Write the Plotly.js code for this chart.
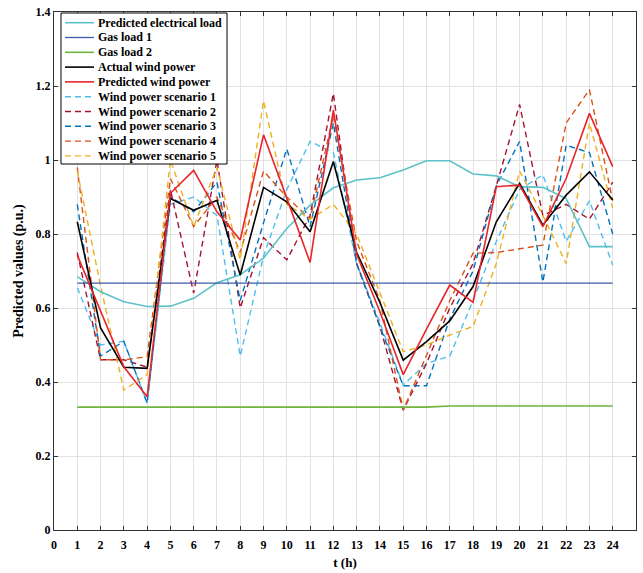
<!DOCTYPE html>
<html>
<head>
<meta charset="utf-8">
<script src="https://cdn.plot.ly/plotly-3.0.1.min.js"></script>
<style>
  html, body { margin: 0; padding: 0; background: #ffffff; }
  #chart { width: 643px; height: 573px; }
</style>
</head>
<body>
<div id="chart"></div>
<script>
// Hourly time axis (h)
const hours = [1, 2, 3, 4, 5, 6, 7, 8, 9, 10, 11, 12, 13, 14, 15, 16, 17, 18, 19, 20, 21, 22, 23, 24];

// Forecast values in p.u.
const electricalLoad = [0.685, 0.644, 0.617, 0.604, 0.605, 0.626, 0.668, 0.690, 0.735, 0.815, 0.878, 0.925, 0.946, 0.952, 0.973, 0.998, 0.998, 0.962, 0.957, 0.928, 0.926, 0.896, 0.766, 0.766];
const gasLoad1 = [0.667, 0.667, 0.667, 0.667, 0.667, 0.667, 0.667, 0.667, 0.667, 0.667, 0.667, 0.667, 0.667, 0.667, 0.667, 0.667, 0.667, 0.667, 0.667, 0.667, 0.667, 0.667, 0.667, 0.667];
const gasLoad2 = [0.332, 0.332, 0.332, 0.332, 0.332, 0.332, 0.332, 0.332, 0.332, 0.332, 0.332, 0.332, 0.332, 0.332, 0.332, 0.332, 0.335, 0.335, 0.335, 0.335, 0.335, 0.335, 0.335, 0.335];
const actualWind = [0.833, 0.546, 0.440, 0.437, 0.896, 0.864, 0.891, 0.689, 0.926, 0.887, 0.806, 0.996, 0.750, 0.615, 0.459, 0.509, 0.565, 0.658, 0.833, 0.937, 0.824, 0.905, 0.968, 0.892];
const predictedWind = [0.743, 0.593, 0.441, 0.360, 0.910, 0.972, 0.860, 0.784, 1.068, 0.897, 0.723, 1.135, 0.745, 0.590, 0.420, 0.543, 0.662, 0.615, 0.928, 0.932, 0.820, 0.950, 1.126, 0.982];
const scenario1 = [0.655, 0.500, 0.510, 0.343, 0.880, 0.900, 0.850, 0.470, 0.740, 0.920, 1.050, 1.020, 0.720, 0.560, 0.392, 0.450, 0.470, 0.620, 0.780, 0.920, 0.960, 0.780, 0.890, 0.716];
const scenario2 = [0.750, 0.460, 0.460, 0.440, 0.920, 0.640, 1.000, 0.600, 0.790, 0.730, 0.850, 1.180, 0.720, 0.550, 0.324, 0.450, 0.600, 0.720, 0.930, 1.150, 0.850, 0.880, 0.840, 0.940];
const scenario3 = [0.880, 0.470, 0.510, 0.343, 0.900, 0.860, 0.940, 0.620, 0.830, 1.030, 0.820, 1.100, 0.720, 0.550, 0.390, 0.390, 0.570, 0.700, 0.930, 1.050, 0.670, 1.040, 1.020, 0.800];
const scenario4 = [0.980, 0.460, 0.460, 0.468, 0.950, 0.820, 0.900, 0.750, 0.970, 0.900, 0.840, 1.120, 0.780, 0.620, 0.324, 0.470, 0.620, 0.748, 0.750, 0.760, 0.770, 1.100, 1.190, 0.890];
const scenario5 = [0.970, 0.660, 0.378, 0.420, 1.000, 0.820, 0.980, 0.730, 1.160, 0.880, 0.840, 0.880, 0.800, 0.640, 0.482, 0.500, 0.527, 0.550, 0.720, 0.970, 0.850, 0.720, 1.100, 0.870];

// Series names, in legend order
const seriesNames = [
  'Predicted electrical load', 'Gas load 1', 'Gas load 2', 'Actual wind power', 'Predicted wind power',
  'Wind power scenario 1', 'Wind power scenario 2', 'Wind power scenario 3', 'Wind power scenario 4', 'Wind power scenario 5'
];
const seriesValues = [electricalLoad, gasLoad1, gasLoad2, actualWind, predictedWind,
  scenario1, scenario2, scenario3, scenario4, scenario5];

// Styles
const seriesColors = ['#5cc2c9', '#3d5aa6', '#6fb43f', '#000000', '#e8252b',
  '#4dbeee', '#a2142f', '#0072bd', '#d95319', '#edb120'];
const seriesDash = ['solid', 'solid', 'solid', 'solid', 'solid',
  '6px,4px', '6px,4px', '6px,4px', '6px,4px', '6px,4px'];
const seriesWidth = [1.6, 1.3, 1.6, 1.6, 1.6, 1.4, 1.4, 1.4, 1.4, 1.4];

const FONT = 'Liberation Serif, Times New Roman, serif';

// Scenarios are drawn first so the solid curves sit on top
const drawOrder = [5, 6, 7, 8, 9, 0, 1, 2, 3, 4];
const traces = drawOrder.map(i => ({
  type: 'scatter',
  mode: 'lines',
  name: seriesNames[i],
  x: hours,
  y: seriesValues[i],
  line: { color: seriesColors[i], width: seriesWidth[i], dash: seriesDash[i] },
  showlegend: false,
  hoverinfo: 'skip'
}));

// Plot-area geometry in pixels (used for the boxed legend)
const M = { l: 54, r: 7, t: 12, b: 43 };
const W = 643, H = 573;
const plotW = W - M.l - M.r, plotH = H - M.t - M.b;
const px = x => (x - M.l) / plotW;
const py = y => (H - M.b - y) / plotH;

const legendBox = { x0: 61, y0: 13, x1: 227, y1: 164 };
const rowY0 = 22.7, rowStep = 14.8;
const shapes = [{
  type: 'rect', xref: 'paper', yref: 'paper', layer: 'above',
  x0: px(legendBox.x0), x1: px(legendBox.x1), y0: py(legendBox.y1), y1: py(legendBox.y0),
  line: { color: '#000000', width: 1 }, fillcolor: '#ffffff'
}];
const annotations = [];
seriesNames.forEach((name, i) => {
  const yy = py(rowY0 + rowStep * i);
  shapes.push({
    type: 'line', xref: 'paper', yref: 'paper', layer: 'above',
    x0: px(65), x1: px(94), y0: yy, y1: yy,
    line: { color: seriesColors[i], width: seriesWidth[i], dash: seriesDash[i] }
  });
  annotations.push({
    xref: 'paper', yref: 'paper', x: px(96), y: yy,
    xanchor: 'left', yanchor: 'middle', showarrow: false,
    text: name, font: { family: FONT, size: 12, color: '#000000', weight: 'bold' }
  });
});

const axisCommon = {
  showline: true, linecolor: '#333333', linewidth: 1, mirror: 'ticks',
  ticks: 'inside', ticklen: 4, tickcolor: '#333333',
  showgrid: true, gridcolor: '#e2e2e2', gridwidth: 1,
  zeroline: false, tickfont: { family: FONT, size: 12, color: '#000000', weight: 'bold' }
};

const layout = {
  width: W, height: H,
  margin: M,
  paper_bgcolor: '#ffffff', plot_bgcolor: '#ffffff',
  showlegend: false,
  xaxis: Object.assign({}, axisCommon, {
    range: [0, 25], tickmode: 'array',
    tickvals: [0, 1, 2, 3, 4, 5, 6, 7, 8, 9, 10, 11, 12, 13, 14, 15, 16, 17, 18, 19, 20, 21, 22, 23, 24],
    ticklabelstandoff: 4,
    title: { text: 't (h)', font: { family: FONT, size: 13, color: '#000000', weight: 'bold' }, standoff: 6 }
  }),
  yaxis: Object.assign({}, axisCommon, {
    range: [0, 1.4], tickmode: 'linear', tick0: 0, dtick: 0.2,
    title: { text: 'Predicted values (p.u.)', font: { family: FONT, size: 14, color: '#000000', weight: 'bold' }, standoff: 8 }
  }),
  shapes: shapes,
  annotations: annotations
};

Plotly.newPlot('chart', traces, layout, { staticPlot: true, displayModeBar: false });
</script>
</body>
</html>
